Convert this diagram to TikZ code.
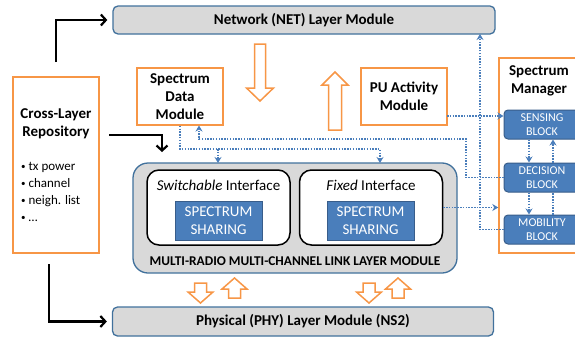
\documentclass[tikz,border=0pt]{standalone}
\usepackage{fontspec}
\setmainfont{Carlito}
\usetikzlibrary{arrows.meta,calc}
\definecolor{cOrange}{HTML}{F79646}
\definecolor{cBlue}{HTML}{4A7EBB}
\definecolor{cDark}{HTML}{385D8A}
\definecolor{cGray}{HTML}{D9D9D9}
\definecolor{cLine}{HTML}{41719C}
\newcommand{\smbullet}{{\fontsize{9}{9}\selectfont\raisebox{0.5pt}{\textbullet}}\ }
\begin{document}
\begin{tikzpicture}[x=1pt,y=-1pt,
  layer/.style={draw=cLine, line width=1.3pt, fill=cGray, rounded corners=5pt, inner sep=0pt,
                font=\fontsize{15}{18}\selectfont\bfseries},
  obox/.style={draw=cOrange, line width=1.5pt, fill=white, align=center, inner sep=0pt,
               font=\fontsize{15}{18}\selectfont\bfseries},
  bblock/.style={draw=cDark, line width=1pt, fill=cBlue, rounded corners=4pt, text=white,
                 align=center, inner sep=0pt, minimum width=76pt, minimum height=29pt,
                 font=\fontsize{12}{14}\selectfont},
  ssbox/.style={draw=cDark, line width=1pt, fill=cBlue, text=white, align=center,
                font=\fontsize{15}{18}\selectfont, minimum width=87pt, minimum height=39pt, inner sep=0pt},
  iface/.style={draw=black, line width=1.5pt, fill=white, rounded corners=12pt,
                minimum width=143pt, minimum height=75pt, inner sep=0pt},
  lbl/.style={font=\fontsize{15}{18}\selectfont, inner sep=0pt},
  blbl/.style={font=\fontsize{15}{18}\selectfont\bfseries, align=center, inner sep=0pt},
  harrow/.style={draw=cOrange, line width=1.5pt, fill=white, line join=miter},
  blk/.style={draw=black, line width=2.2pt, -{Straight Barb[length=5pt,width=11pt]}},
  dot/.style={draw=cBlue, line width=1.6pt, dash pattern=on 1.5pt off 1.3pt},
  dota/.style={dot, -{Stealth[length=6pt,width=7pt]}},
]
\useasboundingbox (0,0) rectangle (575,340);

% layer modules
\node[layer, minimum width=382pt, minimum height=28pt] (net) at (304,20) {Network (NET) Layer Module};
\node[layer, minimum width=381pt, minimum height=29pt] (phy) at (303,321.5) {Physical (PHY) Layer Module (NS2)};

% cross-layer repository
\node[obox, minimum width=86pt, minimum height=176pt] (repo) at (56,165) {};
\node[blbl] (repotitle) at (56,124) {Cross-Layer\\Repository};
\node[anchor=north west, align=left, font=\fontsize{13}{17}\selectfont, inner sep=0pt] (repolist) at (21,162)
  {\smbullet tx power\\\smbullet channel\\\smbullet neigh. list\\\smbullet …};

% spectrum data / PU activity
\node[obox, minimum width=86pt, minimum height=57pt] (sdm) at (180,96.5) {Spectrum\\Data\\Module};
\node[obox, minimum width=86pt, minimum height=57pt] (pu) at (404,96.5) {PU Activity\\Module};

% spectrum manager
\node[obox, minimum width=84pt, minimum height=195pt] (sm) at (541,155.5) {};
\node[blbl] (smtitle) at (539,81) {Spectrum\\Manager};
\node[bblock] (sense) at (542,124.5) {SENSING\\BLOCK};
\node[bblock] (decision) at (542,177.5) {DECISION\\BLOCK};
\node[bblock] (mobility) at (542,229.5) {MOBILITY\\BLOCK};

% link layer module
\node[layer, rounded corners=15pt, minimum width=324pt, minimum height=110pt] (link) at (295,218) {};
\node[font=\fontsize{13.4}{16}\selectfont\bfseries, inner sep=0pt] (linklabel) at (295,261)
  {MULTI-RADIO MULTI-CHANNEL LINK LAYER MODULE};
\node[iface] (sw) at (218.5,207.5) {};
\node[iface] (fx) at (371,207.5) {};
\node[lbl] (swlabel) at (218.5,185) {\textit{Switchable} Interface};
\node[lbl] (fxlabel) at (371,185) {\textit{Fixed} Interface};
\node[ssbox] (ss1) at (218.5,220.5) {SPECTRUM\\SHARING};
\node[ssbox] (ss2) at (370.5,220.5) {SPECTRUM\\SHARING};

% hollow orange arrows
\draw[harrow] (254.5,44) -- (265.5,44) -- (265.5,88) -- (273.5,88) -- (260,101) -- (246.5,88) -- (254.5,88) -- cycle;
\draw[harrow] (328.5,130) -- (341.5,130) -- (341.5,85) -- (348,85) -- (335,72) -- (322,85) -- (328.5,85) -- cycle;
\draw[harrow] (194.5,283) -- (206.5,283) -- (206.5,292) -- (213,292) -- (200.5,303) -- (188,292) -- (194.5,292) -- cycle;
\draw[harrow] (228.5,298) -- (240.5,298) -- (240.5,289) -- (247,289) -- (234.5,278) -- (222,289) -- (228.5,289) -- cycle;
\draw[harrow] (363,283) -- (375,283) -- (375,292) -- (381.5,292) -- (369,303) -- (356.5,292) -- (363,292) -- cycle;
\draw[harrow] (392,298) -- (404,298) -- (404,289) -- (410.5,289) -- (398,278) -- (385.5,289) -- (392,289) -- cycle;

% black connectors
\coordinate (rpTop) at (56,62);
\coordinate (rpRight) at (109,135);
\coordinate (lkTop) at (162,152);
\coordinate (rpBot) at (49,264);
\draw[blk, shorten >=5pt] (rpTop) |- (net.west);
\draw[blk] (rpRight) -| (lkTop);
\draw[blk, shorten >=5pt] (rpBot) |- (phy.west);

% dotted connectors
\coordinate (swJ) at (218,149);
\coordinate (swTop) at (218,163);
\coordinate (fxTop) at (380,163);
\draw[dota] (sdm.south) |- (fxTop|-swJ) -- (fxTop);
\draw[dota] (swJ) -- (swTop);

\coordinate (decJ) at (466,139);
\coordinate (sdmIn) at (199,125.5);
\draw[dota] (decision.west) -| (decJ) -| (sdmIn);

\coordinate (mobJ) at (480,34);
\draw[dota] (mobility.west) -| (mobJ);

\coordinate (puOut) at (447,116);
\draw[dota] (puOut) -- (puOut -| sense.west);

\draw[dota] (fx.east) -- (fx.east -| sm.west);

\draw[dota] ([xshift=-13pt]sense.south) -- ([xshift=-13pt]decision.north);
\draw[dota] ([xshift=11pt]decision.north) -- ([xshift=11pt]sense.south);
\draw[dota] ([xshift=-13pt]decision.south) -- ([xshift=-13pt]mobility.north);
\draw[dot] ([xshift=11pt]mobility.north) -- ([xshift=11pt]decision.south);
\end{tikzpicture}
\end{document}
